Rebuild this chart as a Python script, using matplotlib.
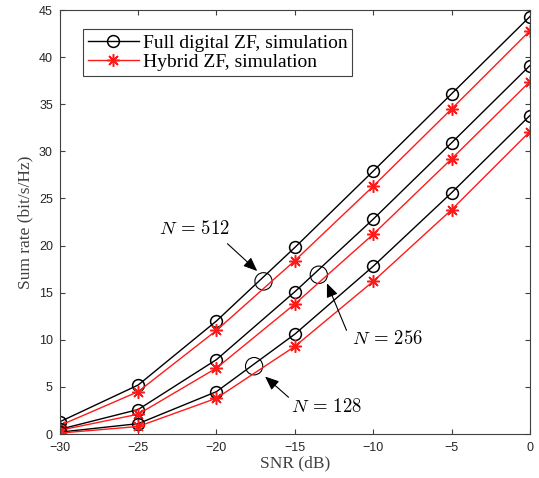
import matplotlib
matplotlib.use('Agg')
import matplotlib.pyplot as plt
from matplotlib.patches import Ellipse

snr = [-30, -25, -20, -15, -10, -5, 0]

full_512 = [1.3, 5.2, 12.0, 19.8, 27.9, 36.1, 44.3]
hyb_512 = [0.9, 4.5, 11.0, 18.4, 26.3, 34.5, 42.8]
full_256 = [0.5, 2.6, 7.9, 15.1, 22.8, 30.9, 39.1]
hyb_256 = [0.4, 2.1, 7.0, 13.8, 21.2, 29.2, 37.4]
full_128 = [0.2, 1.1, 4.5, 10.6, 17.8, 25.6, 33.8]
hyb_128 = [0.1, 0.8, 3.8, 9.3, 16.2, 23.8, 32.1]

plt.rcParams['mathtext.fontset'] = 'cm'
serif = 'Liberation Serif'

fig = plt.figure(figsize=(5.39, 4.78), dpi=100)
ax = fig.add_axes([0.111, 0.092, 0.872, 0.887])

star = (8, 2, 0)
ax.plot(snr, full_512, color='black', lw=1, marker='o', ms=8.5, mfc='none', mew=1.1,
        label='Full digital ZF, simulation')
ax.plot(snr, hyb_512, color='#ff1a1a', lw=1, marker=star, ms=9, mew=1.1,
        label='Hybrid ZF, simulation')
ax.plot(snr, full_256, color='black', lw=1, marker='o', ms=8.5, mfc='none', mew=1.1)
ax.plot(snr, hyb_256, color='#ff1a1a', lw=1, marker=star, ms=9, mew=1.1)
ax.plot(snr, full_128, color='black', lw=1, marker='o', ms=8.5, mfc='none', mew=1.1)
ax.plot(snr, hyb_128, color='#ff1a1a', lw=1, marker=star, ms=9, mew=1.1)

# circles marking the curve pairs
for cx, cy in [(-17.0, 16.2), (-13.47, 16.9), (-17.6, 7.2)]:
    ax.add_patch(Ellipse((cx, cy), 1.1, 1.85, fill=False, ec='black', lw=0.8))

arrow = dict(arrowstyle='-|>,head_length=0.6,head_width=0.25', color='black', lw=0.8,
             mutation_scale=14, shrinkA=0, shrinkB=0)
ax.annotate('', xy=(-17.4, 17.3), xytext=(-19.3, 20.2), arrowprops=arrow)
ax.annotate('', xy=(-12.95, 16.0), xytext=(-11.7, 11.0), arrowprops=arrow)
ax.annotate('', xy=(-16.9, 6.1), xytext=(-15.4, 3.9), arrowprops=arrow)
ax.text(-21.4, 21.8, r'$N\,=\,512$', fontsize=13.5, ha='center', va='center')
ax.text(-9.1, 10.1, r'$N\,=\,256$', fontsize=13.5, ha='center', va='center')
ax.text(-13.0, 2.9, r'$N\,=\,128$', fontsize=13.5, ha='center', va='center')

ax.set_xlim(-30, 0)
ax.set_ylim(0, 45)
ax.set_xticks(range(-30, 1, 5))
ax.set_yticks(range(0, 46, 5))
ax.tick_params(direction='in', top=True, right=True, labelsize=9, colors='#404040',
               labelcolor='#262626')
ax.tick_params(axis='x', pad=6)
ax.tick_params(axis='y', pad=5)
for lab in ax.get_xticklabels() + ax.get_yticklabels():
    lab.set_fontfamily('Liberation Sans')
for sp in ax.spines.values():
    sp.set_color('#404040')
    sp.set_linewidth(0.8)

ax.set_xlabel('SNR (dB)', fontfamily=serif, fontsize=12.5, color='#404040', labelpad=1)
ax.set_ylabel('Sum rate (bit/s/Hz)', fontfamily=serif, fontsize=12.5, color='#404040', labelpad=4)

leg = ax.legend(loc='upper left', bbox_to_anchor=(0.05, 0.955), prop={'family': serif, 'size': 14},
                fancybox=False, edgecolor='#404040', framealpha=1, handlelength=2.6,
                handletextpad=0.2, borderpad=0.25, labelspacing=0.1, borderaxespad=0)
leg.get_frame().set_linewidth(0.8)

fig.savefig('out.png', dpi=100)
